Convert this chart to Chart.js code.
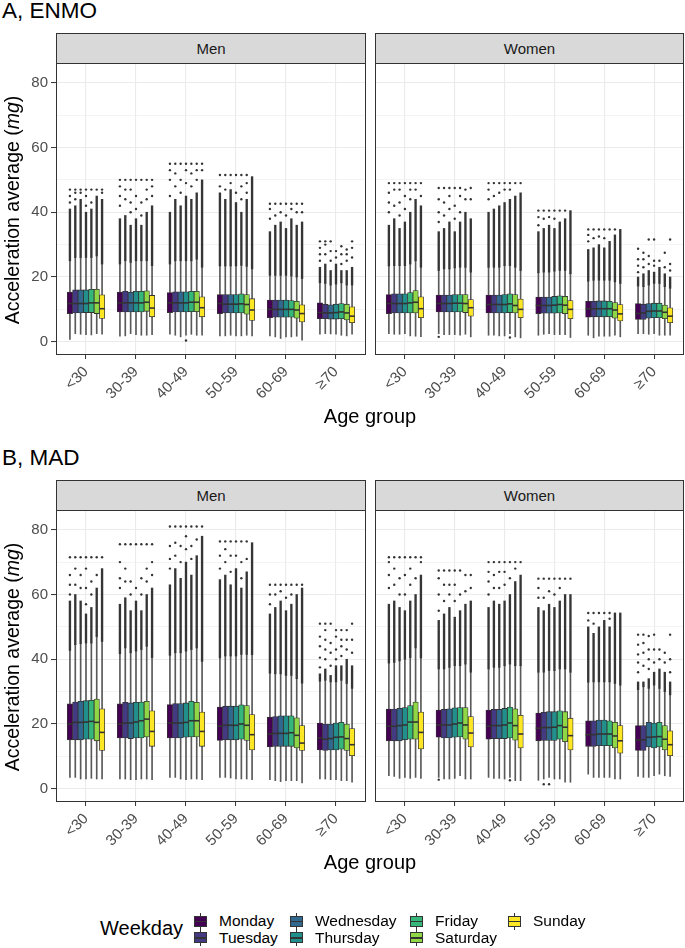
<!DOCTYPE html>
<html><head><meta charset="utf-8">
<script src="https://cdn.jsdelivr.net/npm/chart.js@4.4.1/dist/chart.umd.min.js"></script>
<style>
body{margin:0;background:#fff;font-family:'Liberation Sans',Arial,sans-serif;}
#fig{position:relative;width:685px;height:948px;overflow:hidden;background:#fff;}
.abs{position:absolute;}
.title{font-size:22.5px;line-height:22px;color:#000;left:2px;white-space:nowrap;}
.strip{position:absolute;background:#d9d9d9;border:1px solid #333;box-sizing:border-box;height:31px;font-size:15px;color:#1a1a1a;text-align:center;line-height:29px;}
.ytitle{position:absolute;font-size:19.5px;line-height:20px;white-space:nowrap;transform:translate(-50%,-50%) rotate(-90deg);color:#000;}
.xtitle{position:absolute;font-size:20px;line-height:20px;white-space:nowrap;transform:translateX(-50%);color:#000;}
.cbox{position:absolute;}
.legtitle{position:absolute;font-size:20px;line-height:20px;color:#000;}
.leglab{position:absolute;font-size:15.5px;line-height:16px;color:#000;white-space:nowrap;}
.key{position:absolute;width:13px;height:17px;}
.key .wh{position:absolute;left:6px;width:1px;height:17px;top:0;background:#333;}
.key .bx{position:absolute;left:0;top:3px;width:13px;height:11px;border:1px solid #333;box-sizing:border-box;}
.key .md{position:absolute;left:0;top:8px;width:13px;height:1.4px;background:#333;}
</style></head>
<body><div id="fig">
<div class="abs title" style="top:0px">A, ENMO</div>
<div class="abs title" style="top:447px">B, MAD</div>
<div class="strip" style="left:56px;top:33px;width:310px">Men</div>
<div class="strip" style="left:375px;top:33px;width:309px">Women</div>
<div class="strip" style="left:56px;top:480px;width:310px">Men</div>
<div class="strip" style="left:375px;top:480px;width:309px">Women</div>
<div class="cbox" style="left:0;top:63px;width:366px;height:352px"><canvas id="cAM"></canvas></div>
<div class="cbox" style="left:375px;top:63px;width:309px;height:352px"><canvas id="cAW"></canvas></div>
<div class="cbox" style="left:0;top:510px;width:366px;height:352px"><canvas id="cBM"></canvas></div>
<div class="cbox" style="left:375px;top:510px;width:309px;height:352px"><canvas id="cBW"></canvas></div>
<div class="ytitle" style="left:12px;top:210px">Acceleration average (<i>mg</i>)</div>
<div class="ytitle" style="left:12px;top:657px">Acceleration average (<i>mg</i>)</div>
<div class="xtitle" style="left:370px;top:406px">Age group</div>
<div class="xtitle" style="left:370px;top:852px">Age group</div>
<div id="legend"></div>
</div>
<script>
// ---------- categories ----------
const ageGroups = ['<30','30-39','40-49','50-59','60-69','\u226570'];
const weekdays = ['Monday','Tuesday','Wednesday','Thursday','Friday','Saturday','Sunday'];
const weekdayColors = ['#440154','#443A83','#31688E','#21908C','#35B779','#8FD744','#FDE725'];
const yGridValues = [0,10,20,30,40,50,60,70,80];
const yLabelValues = [0,20,40,60,80];

// ---------- A, ENMO, Men (rows: weekdays, cols: age groups) ----------
const enmoMenLo = [[0.7,1.7,2.3,1.8,1.8,2.3],[2.5,1.8,2.0,1.8,1.5,2.5],[2.3,2.5,1.5,2.0,1.0,2.4],[2.2,2.2,2.0,1.8,1.5,2.3],[2.1,2.0,2.3,1.8,1.5,2.0],[2.5,2.0,2.0,2.0,1.7,1.8],[2.3,2.2,2.0,1.8,0.5,2.3]];
const enmoMenQ1 = [[8.7,9.2,9.0,8.7,7.4,7.1],[8.9,9.2,9.2,8.9,7.6,7.1],[8.9,9.2,9.2,8.9,7.6,7.0],[9.0,9.2,9.2,8.9,7.6,7.0],[9.0,9.2,9.3,8.9,7.6,7.1],[8.7,9.4,9.3,8.5,7.3,6.7],[7.2,7.7,7.7,6.6,6.1,5.9]];
const enmoMenMed = [[11.8,12.0,12.0,11.8,10.0,9.0],[11.8,12.0,12.0,11.6,10.0,8.9],[11.8,12.0,12.0,11.6,10.0,8.9],[11.8,12.0,12.0,11.6,10.0,9.0],[12.0,12.0,12.2,11.7,10.0,9.2],[12.0,12.2,12.2,11.5,9.8,8.9],[10.2,10.4,10.5,9.8,8.7,7.9]];
const enmoMenQ3 = [[15.3,15.3,15.2,14.6,12.9,12.0],[16.0,15.6,15.4,14.6,12.9,11.6],[16.0,15.3,15.4,14.6,12.9,11.4],[16.0,15.6,15.4,14.6,12.9,11.6],[16.2,15.6,15.6,14.8,12.7,11.8],[16.2,15.7,15.6,14.6,12.5,11.6],[14.5,14.3,13.9,13.3,11.4,10.8]];
const enmoMenHi = [[25,24,24,23.4,20.5,18.2],[26,25,25,23.4,20.5,18],[26,24.5,25,23.4,20.5,17.5],[26,25,25,23.4,20.5,17.8],[26,25,25,23.6,20.3,18.2],[26.5,25,25.5,23.3,20,17.5],[24,23.5,23,22.5,19.5,17.5]];
const enmoMenDense = [[41,38,40,46,34,23],[42,39,44,44,36,24],[44,36,42,47,37,22],[40,38,45,43,35,24],[41,36,44,40,38,22],[45,40,46,44,36,22],[44,42,50,51,37,23]];
const enmoMenOut = [
 [[43,45,47],[42,45,48,50],[45,50,53,55],[48,51.5],[38,41,42.6],[25,27,29,31]],
 [[44,46,47],[44,47,50],[48,52,55],[47,51.5],[39,42.6],[27,30,31]],
 [[46,47],[40,43,47,50],[46,50,55],[49,51.5],[40,42.6],[25,28,31]],
 [[42,45,47],[41,45,50],[49,53,55],[46,51.5],[39,42.6],[26,28]],
 [[43,47],[39,43,50],[48,52,55],[44,48,51.5],[41,42.6],[24,27,29.5]],
 [[47],[44,47,50],[50,53,55],[46,49,51.5],[40,42.6],[25,27,28.5]],
 [[46,47],[45,48,50],[53,55],[],[40,42.6],[26,29,31]]];
const enmoMenLowOut = [['Thursday','40-49',0.4]];

// ---------- A, ENMO, Women ----------
const enmoWomenLo = [[2.5,2.5,2.0,2.0,2.0,2.5],[2.3,2.2,2.0,2.3,1.2,2.5],[2.3,2.2,1.8,2.5,1.7,2.3],[2.5,2.2,1.8,2.2,1.7,2.5],[1.8,2.0,2.5,2.2,1.7,2.0],[1.7,2.3,1.5,2.2,2.0,2.0],[1.6,1.5,1.2,1.3,1.5,2.0]];
const enmoWomenQ1 = [[8.7,9.2,8.9,8.7,7.6,6.9],[8.9,9.2,8.9,8.8,7.7,6.9],[8.9,9.2,8.9,8.8,7.7,7.3],[8.9,9.2,8.9,8.8,7.7,7.4],[8.9,9.2,9.0,8.9,7.7,7.4],[8.9,9.0,8.9,8.7,7.3,7.1],[7.4,7.9,7.4,7.1,6.4,5.9]];
const enmoWomenMed = [[11.8,11.8,11.5,11.2,10.2,8.7],[11.8,11.8,11.5,11.2,10.2,8.9],[11.8,11.8,11.5,11.2,10.2,9.4],[11.8,11.9,11.5,11.3,10.2,9.5],[12.0,11.9,11.7,11.5,10.2,9.5],[12.2,11.8,11.2,11.3,9.8,9.1],[10.2,10.5,10.0,10.0,8.6,7.9]];
const enmoWomenQ3 = [[14.6,14.4,14.4,13.8,12.5,11.8],[14.8,14.4,14.4,13.8,12.5,11.6],[14.8,14.4,14.4,13.8,12.6,11.8],[14.8,14.6,14.6,14.0,12.6,11.9],[15.2,14.6,14.8,14.2,12.5,11.9],[15.8,14.6,14.6,14.0,12.1,11.3],[13.9,13.0,13.2,12.7,11.5,10.5]];
const enmoWomenHi = [[23.4,22,23,21.3,18.7,17.2],[23.5,22.5,23,21.5,19,17],[23.5,22.5,23,21.5,19,17.5],[23.5,22.8,23.5,21.8,19,18],[24,23,23.5,22,19,18],[25,23,23,22,18.5,17],[23,21.5,22,21,18,16.5]];
const enmoWomenDense = [[36,34,40,34,28.5,20],[38,35,41,35,29,21],[35,37,42,36,30,22],[37,34,43,35,29,21.5],[40,37,44,37,31,23],[44,40,45,38,33,21],[42,38,46,40.5,34.7,20]];
const enmoWomenOut = [
 [[40,43,46,49],[37,40,44,47.5],[44,47,49],[36,38.5,40.5],[31,33,34.7],[21.5,23.5,25.5,28.7]],
 [[42,47,49],[39,43,47.5],[45,49],[38,40.5],[32,34.7],[23,25.5,27.5]],
 [[39,43,47,49],[41,45,47.5],[46,49],[38.5,40.5],[32.5,34.7],[24,26.5,31.6]],
 [[41,45,49],[38,42,47.5],[47,49],[38,40.5],[32,34.7],[23.5,25,31.6]],
 [[44,47,49],[40,45,47.5],[47,49],[40.5],[34.7],[25]],
 [[47,49],[44,47],[49],[40.5],[34.7],[23,27.5]],
 [[45,49],[44,47.5],[49],[],[],[22,24,31.6]]];
const enmoWomenLowOut = [['Monday','30-39',1.5],['Friday','40-49',1.3]];

// ---------- B, MAD, Men ----------
const madMenLo = [[3.5,3.0,3.5,3.5,2.8,3.0],[3.5,3.0,3.5,3.5,2.5,3.0],[3.0,2.8,3.0,3.3,2.2,2.8],[3.0,2.8,2.8,3.0,2.5,2.8],[3.2,3.0,3.0,3.0,2.5,2.5],[3.0,3.0,3.0,3.0,2.5,2.5],[3.0,2.8,2.8,2.8,1.8,2.0]];
const madMenQ1 = [[15.1,15.7,15.7,14.9,12.9,12.0],[15.1,15.7,15.7,15.1,13.1,11.8],[15.1,15.5,15.7,15.1,13.1,12.0],[15.3,15.7,15.9,15.1,13.1,12.0],[15.3,15.7,16.0,15.3,13.1,12.2],[14.8,16.0,16.0,14.9,12.6,11.8],[11.8,13.1,13.1,12.0,11.8,10.2]];
const madMenMed = [[20.0,20.0,20.3,19.3,16.9,15.7],[20.5,20.3,20.3,19.6,17.1,15.3],[20.5,20.3,20.3,19.6,17.1,15.5],[20.6,20.6,20.5,19.6,17.1,15.9],[20.8,21.0,21.0,20.0,17.3,16.0],[20.5,21.5,21.0,19.6,16.5,15.5],[17.4,17.7,17.7,16.7,14.1,13.6]];
const madMenQ3 = [[26.2,26.2,26.0,25.2,22.1,20.3],[26.8,26.7,26.3,25.5,22.3,20.0],[27.0,26.5,26.3,25.5,22.5,20.0],[27.2,26.7,26.5,25.5,22.5,20.3],[27.3,26.8,27.0,25.9,22.5,20.5],[27.7,27.0,26.7,25.7,21.9,20.0],[24.7,24.1,23.7,22.9,19.5,18.6]];
const madMenHi = [[42.7,41.7,41.2,40.4,35.7,33.2],[44.5,43.5,42,41,35.5,33.5],[44.8,42,42,41,35.5,33],[45,42.5,42.5,41,35,33],[45,43,43,41.5,35,33.5],[47,44,43.5,41.5,34,32.5],[45.5,40.5,39.3,41.4,32.6,31]];
const madMenDense = [[58,57,63,64.6,54,35.5],[60,59,68,66,56,37],[58,55,65,63,58,35],[54,58,70,68,55,38],[56,55,66,62,57,38],[62,60,72,67,60,40],[68,62,78,76,62,38]];
const madMenOut = [
 [[60,63,66,71.5],[62,65,70,75.5],[68,71,75,81],[68,72,76.4],[57,60,63],[37.5,40.5,44,47,51]],
 [[63,68,71.5],[64,68,75.5],[72,76,81],[70,74,76.4],[60,63],[40,43,46,49,51]],
 [[62,66,71.5],[60,64,75.5],[70,75,81],[67,72,76.4],[61,63],[38,42,45,51]],
 [[57,62,68,71.5],[62,75.5],[74,78,81],[72,76.4],[59,63],[40,43,47,49]],
 [[60,64,71.5],[60,65,75.5],[71,75,81],[65,70,76.4],[60,63],[41,44,46,49]],
 [[66,71.5],[64,68,75.5],[77,81],[71,76.4],[63],[43,46,49]],
 [[71.5],[66,70,75.5],[81],[],[63],[42,46,51]]];
const madMenLowOut = [];

// ---------- B, MAD, Women ----------
const madWomenLo = [[4.0,3.5,3.5,2.6,4.5,3.8],[3.8,3.0,3.2,3.0,3.5,3.5],[3.2,3.0,3.2,3.5,3.5,3.5],[3.5,3.2,3.0,3.0,3.5,4.0],[3.2,4.0,3.5,3.0,3.5,4.5],[3.5,3.0,2.5,2.0,3.0,4.0],[3.2,3.0,2.5,2.0,3.0,3.8]];
const madWomenQ1 = [[14.8,15.9,15.3,14.8,13.1,11.8],[14.8,15.7,15.5,14.9,13.1,11.8],[14.8,15.7,15.5,14.9,13.3,12.9],[15.1,15.9,15.5,14.9,13.3,12.6],[15.3,16.0,15.7,15.3,13.3,12.9],[15.3,15.3,15.0,14.5,12.6,12.0],[12.3,12.9,12.6,12.0,11.0,10.2]];
const madWomenMed = [[19.3,19.7,19.3,18.7,16.7,15.1],[19.3,19.7,19.5,18.9,16.7,15.1],[19.5,19.7,19.5,18.9,16.9,15.9],[19.7,20.0,19.7,19.0,16.9,16.0],[20.6,20.3,20.3,19.5,16.9,16.1],[20.6,19.7,19.5,19.0,16.3,15.3],[17.4,17.2,16.9,16.4,14.8,13.6]];
const madWomenQ3 = [[24.6,24.3,24.3,23.4,21.0,19.5],[24.6,24.5,24.5,23.6,21.0,19.5],[24.8,24.7,24.5,23.8,21.2,20.5],[25.1,25.0,24.8,23.8,21.2,20.3],[25.7,25.1,25.2,24.1,21.0,20.5],[26.8,25.1,24.7,23.8,20.5,19.5],[23.7,22.3,22.7,21.8,19.5,17.9]];
const madWomenHi = [[38.8,37,37,36,32.9,30.6],[39,37,37.5,36,33,31.5],[39.5,37.5,37.5,36.5,33,31],[40,38,38,36.5,33,32],[40.5,38,38.5,37,33,31],[43.5,38.5,38,37,32.5,30],[40.4,36,38,36,32,29]];
const madWomenDense = [[57,52,56,56,50,33],[58,54,58,55,48,33],[56,56,57,57,50,34],[55,53,58,56,52,36],[58,55,60,58,50,37],[60,57,64,60,54.3,36],[66,58,66,60,54.3,33]];
const madWomenOut = [
 [[62,66,70,71.5],[55,60,65,67.4],[60,64,67,70],[59,62,64.9],[52,54.3],[36,39,41.5,44.5,47.6]],
 [[63,68,71.5],[58,63,67.4],[62,66,70],[59,64.9],[51,54.3],[38,42,45,47.6]],
 [[60,65,71.5],[60,63,67.4],[62,67,70],[61,64.9],[54.3],[37,40,43,47.2]],
 [[60,66,71.5],[58,63,67.4],[63,67,70],[60,64.9],[54.3],[39,43,47.6]],
 [[63,68,71.5],[60,67.4],[65,70],[62,64.9],[52.5,54.3],[40,43]],
 [[65,71.5],[61,66],[68,70],[64.9],[],[39,42]],
 [[70,71.5],[62,66],[70],[64.9],[],[36,40,47.6]]];
const madWomenLowOut = [['Monday','30-39',2.8],['Friday','40-49',2.6],['Tuesday','50-59',1.4],['Wednesday','50-59',1.4]];

// ---------- drawing ----------
const FONT = "'Liberation Sans', Arial, sans-serif";
const DODGE = 0.75;

function buildDatasets(st) {
  const ds = [];
  weekdays.forEach((day, d) => {
    const off = (d - (weekdays.length - 1) / 2) * DODGE / weekdays.length;
    const xs = ageGroups.map((g, i) => i + 1 + off);
    ds.push({type:'bar', data: xs.map((x,i)=>({x, y:[st.lo[d][i], st.hi[d][i]]})),
      backgroundColor:'#595959', barThickness:1, grouped:false, order:4});
    ds.push({type:'bar', data: xs.map((x,i)=>({x, y:[st.hi[d][i], st.dense[d][i]]})),
      backgroundColor:'#353535', barThickness:1.7, grouped:false, order:3});
    ds.push({type:'bar', label: day, data: xs.map((x,i)=>({x, y:[st.q1[d][i], st.q3[d][i]]})),
      backgroundColor: weekdayColors[d], borderColor:'#333333', borderWidth:0.8, borderSkipped:false,
      grouped:false, barPercentage:1, categoryPercentage:1, medians: st.med[d], order:2});
    const pts = [];
    st.out[d].forEach((arr, i) => arr.forEach(v => pts.push({x: xs[i], y: v})));
    st.lowOut.filter(t => t[0] === day).forEach(t => pts.push({x: xs[ageGroups.indexOf(t[1])], y: t[2]}));
    ds.push({type:'scatter', data: pts, pointRadius:1.2, pointBackgroundColor:'#333333',
      pointBorderWidth:0, pointHoverRadius:1.2, order:1});
  });
  return ds;
}

const medianPlugin = {
  id: 'medians',
  afterDatasetsDraw(chart) {
    const ctx = chart.ctx, ys = chart.scales.y, a = chart.chartArea;
    ctx.save();
    ctx.beginPath(); ctx.rect(a.left, a.top, a.width, a.height); ctx.clip();
    ctx.strokeStyle = '#333333'; ctx.lineWidth = 1.6;
    chart.data.datasets.forEach((ds, di) => {
      if (!ds.medians) return;
      chart.getDatasetMeta(di).data.forEach((el, i) => {
        const py = ys.getPixelForValue(ds.medians[i]);
        ctx.beginPath(); ctx.moveTo(el.x - el.width/2, py); ctx.lineTo(el.x + el.width/2, py); ctx.stroke();
      });
    });
    ctx.restore();
  }
};
const borderPlugin = {
  id: 'panelBorder',
  afterDraw(chart) {
    const a = chart.chartArea, ctx = chart.ctx;
    ctx.save(); ctx.strokeStyle = '#333333'; ctx.lineWidth = 1;
    ctx.strokeRect(Math.round(a.left)+0.5, Math.round(a.top)+0.5, Math.round(a.width)-1, Math.round(a.height)-1);
    ctx.restore();
  }
};

function makeChart(id, st, showY) {
  new Chart(document.getElementById(id), {
    type: 'bar',
    data: { datasets: buildDatasets(st) },
    options: {
      responsive: true, maintainAspectRatio: false, animation: false, events: [],
      layout: { padding: 0, autoPadding: false },
      plugins: { legend: { display: false }, tooltip: { enabled: false } },
      scales: {
        x: {
          type: 'linear', min: 0.4, max: 6.6, offset: false,
          afterBuildTicks: s => { s.ticks = ageGroups.map((g, i) => ({ value: i + 1 })); },
          ticks: { callback: (v, i) => ageGroups[i], minRotation: 45, maxRotation: 45, autoSkip: false,
                   color: '#4d4d4d', font: { size: 15, family: FONT }, padding: 4 },
          grid: { color: '#ebebeb', lineWidth: 1.1, offset: false, tickLength: 4, tickColor: '#333333', tickWidth: 1 },
          border: { display: false },
          afterFit: s => { s.height = 60; s.paddingLeft = 0; s.paddingRight = 0; }
        },
        y: {
          type: 'linear', min: -4.1, max: 86.1,
          afterBuildTicks: s => { s.ticks = yGridValues.map(v => ({ value: v })); },
          ticks: { display: showY, callback: v => (yLabelValues.includes(v) ? String(v) : ''),
                   color: '#4d4d4d', font: { size: 15, family: FONT }, padding: 3 },
          grid: { color: '#ebebeb', lineWidth: c => (c.tick && yLabelValues.includes(c.tick.value)) ? 1.1 : 0.55,
                  drawTicks: showY, tickLength: 5, tickWidth: 1,
                  tickColor: c => (c.tick && yLabelValues.includes(c.tick.value)) ? '#333333' : 'rgba(0,0,0,0)' },
          border: { display: false },
          afterFit: s => { s.width = showY ? 56 : 0; s.paddingTop = 0; s.paddingBottom = 0; }
        }
      }
    },
    plugins: [medianPlugin, borderPlugin]
  });
}

makeChart('cAM', {lo:enmoMenLo,q1:enmoMenQ1,med:enmoMenMed,q3:enmoMenQ3,hi:enmoMenHi,dense:enmoMenDense,out:enmoMenOut,lowOut:enmoMenLowOut}, true);
makeChart('cAW', {lo:enmoWomenLo,q1:enmoWomenQ1,med:enmoWomenMed,q3:enmoWomenQ3,hi:enmoWomenHi,dense:enmoWomenDense,out:enmoWomenOut,lowOut:enmoWomenLowOut}, false);
makeChart('cBM', {lo:madMenLo,q1:madMenQ1,med:madMenMed,q3:madMenQ3,hi:madMenHi,dense:madMenDense,out:madMenOut,lowOut:madMenLowOut}, true);
makeChart('cBW', {lo:madWomenLo,q1:madWomenQ1,med:madWomenMed,q3:madWomenQ3,hi:madWomenHi,dense:madWomenDense,out:madWomenOut,lowOut:madWomenLowOut}, false);

// ---------- legend ----------
(function(){
  const leg = document.getElementById('legend');
  const t = document.createElement('div'); t.className = 'legtitle'; t.textContent = 'Weekday';
  t.style.left = '100px'; t.style.top = '918px'; leg.appendChild(t);
  const colKeyX = [194, 290, 410, 508];
  const colLabX = [219, 315, 435, 533];
  const rowKeyY = [912.5, 929.3];
  const rowLabY = [913.3, 930];
  weekdays.forEach((day, d) => {
    const col = Math.floor(d / 2), row = d % 2;
    const k = document.createElement('div'); k.className = 'key';
    k.style.left = colKeyX[col] + 'px'; k.style.top = rowKeyY[row] + 'px';
    k.innerHTML = '<div class="wh"></div><div class="bx" style="background:' + weekdayColors[d] + '"></div><div class="md"></div>';
    leg.appendChild(k);
    const l = document.createElement('div'); l.className = 'leglab'; l.textContent = day;
    l.style.left = colLabX[col] + 'px'; l.style.top = rowLabY[row] + 'px';
    leg.appendChild(l);
  });
})();
</script>
</body></html>
